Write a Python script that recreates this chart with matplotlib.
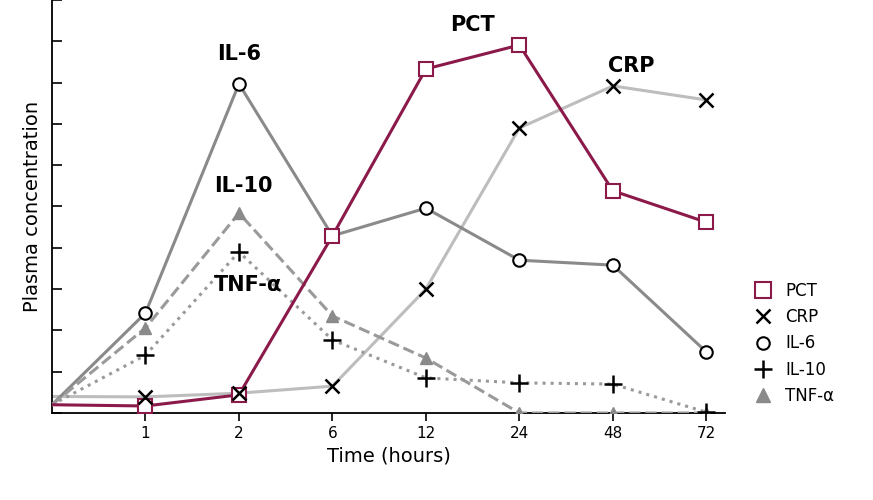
import matplotlib.pyplot as plt
from matplotlib.lines import Line2D

# x categories: index 0 is the origin, then the time points
time_labels = ['1', '2', '6', '12', '24', '48', '72']
x = [0, 1, 2, 3, 4, 5, 6, 7]

pct = [0.2, 0.17, 0.44, 4.29, 8.33, 8.91, 5.38, 4.62]
crp = [0.4, 0.39, 0.48, 0.65, 3.0, 6.9, 7.92, 7.58]
il6 = [0.2, 2.42, 7.97, 4.29, 4.96, 3.7, 3.58, 1.48]
il10 = [0.2, 1.4, 3.9, 1.77, 0.85, 0.73, 0.7, 0.02]
tnf = [0.2, 2.06, 4.84, 2.35, 1.33, 0.0, 0.0, 0.0]

fig = plt.figure(figsize=(8.73, 5), dpi=100)
ax = fig.add_axes([52/873, 87/500, 673/873, 413/500])

ax.plot(x, crp, color='#bdbdbd', lw=2.2, zorder=2)
ax.plot(x[1:], crp[1:], ls='none', marker='x', ms=10, mew=1.8, color='black', zorder=5)
ax.plot(x, il6, color='#8a8a8a', lw=2.2, marker='o', ms=9, mfc='white', mec='black', mew=1.5, markevery=list(range(1, 8)), zorder=3)
ax.plot(x, il10, color='#9a9a9a', lw=2.2, ls=':', zorder=2)
ax.plot(x[1:], il10[1:], ls='none', marker='+', ms=13, mew=1.8, color='black', zorder=5)
ax.plot(x, tnf, color='#9a9a9a', lw=2.2, ls='--', marker='^', ms=9, mfc='#8a8a8a', mec='#8a8a8a', markevery=list(range(1, 8)), zorder=3)
ax.plot(x, pct, color='#8b1a4a', lw=2.2, marker='s', ms=10, mfc='white', mec='#8b1a4a', mew=1.5, markevery=list(range(1, 8)), zorder=4)

ax.set_xlim(0, 7.2)
ax.set_ylim(0, 10)
ax.set_xticks(x[1:])
ax.set_xticklabels(time_labels, fontsize=11)
ax.set_yticks(range(11))
ax.set_yticklabels([])
ax.tick_params(direction='in', length=7, width=1.2)
ax.tick_params(axis='x', direction='out', length=6)
for s in ['top', 'right']:
    ax.spines[s].set_visible(False)
for s in ['left', 'bottom']:
    ax.spines[s].set_linewidth(1.3)

ax.set_xlabel('Time (hours)', fontsize=14)
ax.set_ylabel('Plasma concentration', fontsize=14)

for txt, tx, ty in [('IL-6', 2.0, 8.7), ('IL-10', 2.05, 5.5), ('TNF-\u03b1', 2.1, 3.1),
                    ('PCT', 4.5, 9.4), ('CRP', 6.2, 8.4)]:
    ax.text(tx, ty, txt, fontsize=15, fontweight='bold', ha='center', va='center')

handles = [
    Line2D([], [], ls='none', marker='s', ms=11, mfc='white', mec='#8b1a4a', mew=1.5),
    Line2D([], [], ls='none', marker='x', ms=10, mew=1.8, color='black'),
    Line2D([], [], ls='none', marker='o', ms=9, mfc='white', mec='black', mew=1.5),
    Line2D([], [], ls='none', marker='+', ms=13, mew=1.8, color='black'),
    Line2D([], [], ls='none', marker='^', ms=10, mfc='#8a8a8a', mec='#8a8a8a'),
]
order = ['PCT', 'CRP', 'IL-6', 'IL-10', 'TNF-\u03b1']
fig.legend(handles, order, loc='lower left', bbox_to_anchor=(740/873, 80/500),
           frameon=False, fontsize=12, handlelength=1.0, labelspacing=0.5)

fig.savefig('out.png', dpi=100)
